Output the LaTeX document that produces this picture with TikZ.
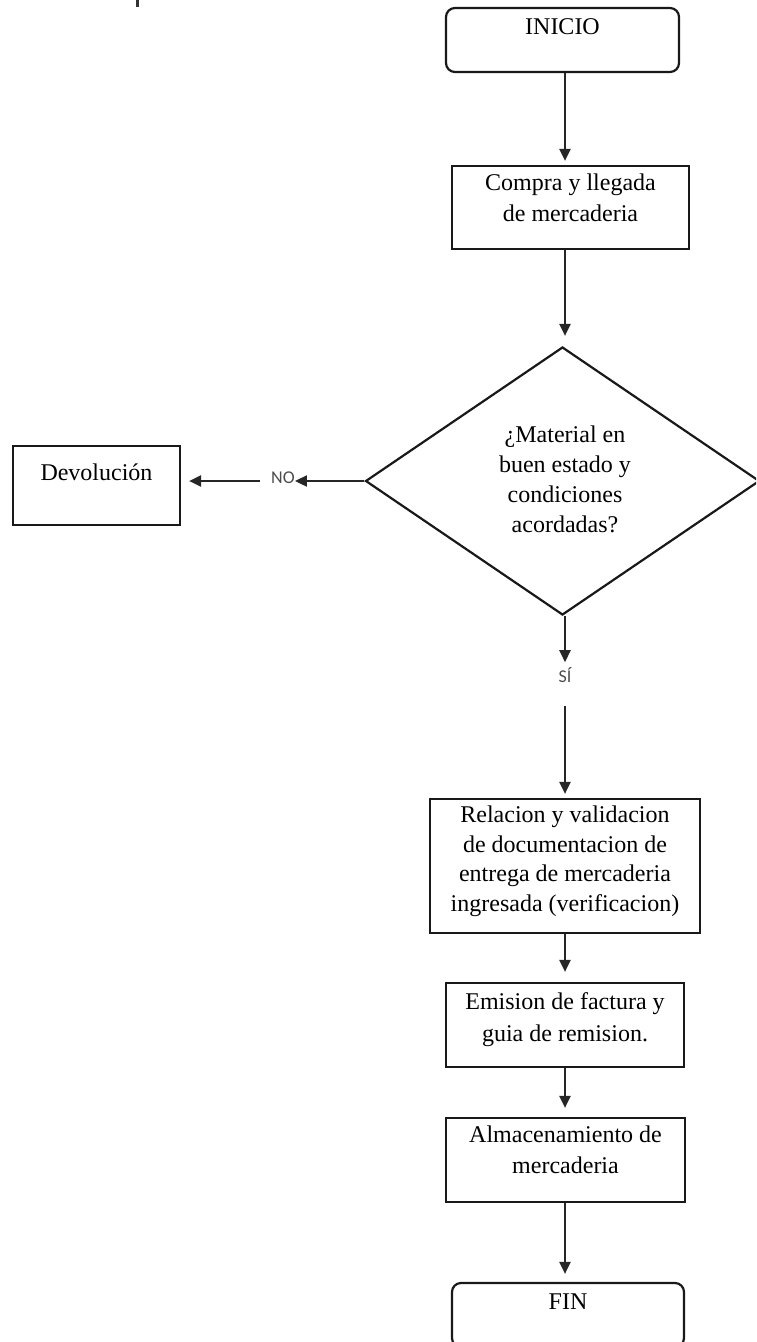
\documentclass[tikz,border=0pt]{standalone}
\usepackage{fontspec}
\setmainfont{Liberation Serif}
\newfontfamily\tagfont{Carlito}
\usetikzlibrary{shapes.geometric,arrows.meta,calc}
\begin{document}
\begin{tikzpicture}[x=1pt,y=-1pt,
  every node/.style={inner sep=0pt},
  frame/.style={draw=black!90, line width=2.2pt},
  stepbox/.style={frame, rectangle},
  endbox/.style={frame, rectangle, rounded corners=9pt},
  decision/.style={frame, diamond},
  txt/.style={align=center, font=\fontsize{24}{31}\selectfont, anchor=north},
  tag/.style={font=\tagfont\fontsize{18}{20}\selectfont, text=black!70},
  flow/.style={draw=black!85, line width=2.2pt, -{Triangle[length=12pt,width=11pt]}}
]
\clip (0,0) rectangle (756,1342);

% fragment of a glyph at the top edge
\draw[line width=2.4pt, black!80] (137.5,0) -- (137.5,7);

% start / end terminals
\node[endbox, minimum width=233pt, minimum height=64pt] (inicio) at (562.5,40) {};
\node[txt] (inicioT) at ($(inicio.north)+(0,12)$) {INICIO};

\node[endbox, minimum width=232pt, minimum height=64pt] (fin) at (568,1315) {};
\node[txt] (finT) at ($(fin.north)+(0,12)$) {FIN};

% process steps
\node[stepbox, minimum width=237pt, minimum height=83pt] (compra) at (570.5,207.5) {};
\node[txt] (compraT) at ($(compra.north)+(0,9)$) {Compra y llegada\\de mercaderia};

\node[stepbox, minimum width=167pt, minimum height=79pt] (dev) at (96.5,485.5) {};
\node[txt] (devT) at ($(dev.north)+(0,19)$) {Devolución};

\node[stepbox, minimum width=270pt, minimum height=134pt] (rel) at (565,866) {};
\node[txt, font=\fontsize{24}{29.5}\selectfont] (relT) at ($(rel.north)+(0,8)$)
  {Relacion y validacion\\de documentacion de\\entrega de mercaderia\\ingresada (verificacion)};

\node[stepbox, minimum width=238pt, minimum height=84pt] (emi) at (565,1025) {};
\node[txt, font=\fontsize{24}{32}\selectfont] (emiT) at ($(emi.north)+(0,10)$) {Emision de factura y\\guia de remision.};

\node[stepbox, minimum width=239pt, minimum height=84pt] (alm) at (565.5,1160) {};
\node[txt] (almT) at ($(alm.north)+(0,9)$) {Almacenamiento de\\mercaderia};

% decision
\node[decision, minimum width=394pt, minimum height=268pt] (dia) at (562.5,481) {};
\node[txt, font=\fontsize{24}{30}\selectfont, anchor=center] (diaT) at (565,479)
  {¿Material en\\buen estado y\\condiciones\\acordadas?};

% branch labels
\node[tag] (no) at (283,478) {NO};
\node[tag] (si) at (565,675) {SÍ};

% connectors
\draw[flow, shorten >=4pt] (inicio.south -| si.north) -- (compra.north -| si.north);
\draw[flow, shorten >=10pt] (compra.south -| si.north) -- (dia.north -| si.north);
\draw[flow] (dia.west) -- (dia.west -| no.east);
\draw[flow, shorten <=11pt, shorten >=8pt] (no.west |- dia.west) -- (dev.east |- dia.west);
\draw[flow, shorten >=5pt] (dia.south -| si.north) -- (si.north);
\draw[flow, shorten <=23pt, shorten >=4pt] (si.south) -- (rel.north -| si.south);
\draw[flow, shorten >=10pt] (rel.south -| si.north) -- (emi.north -| si.north);
\draw[flow, shorten >=9pt] (emi.south -| si.north) -- (alm.north -| si.north);
\draw[flow, shorten >=8pt] (alm.south -| si.north) -- (fin.north -| si.north);
\end{tikzpicture}
\end{document}
